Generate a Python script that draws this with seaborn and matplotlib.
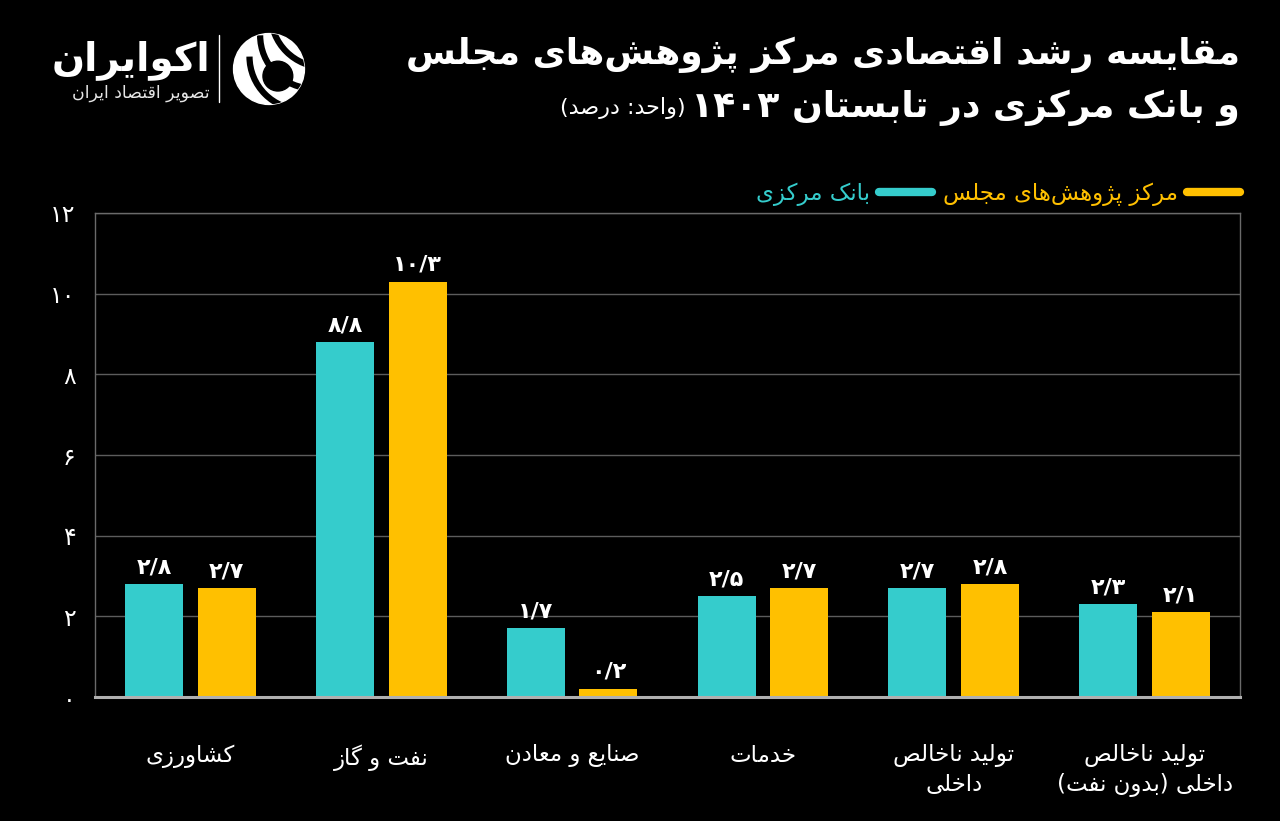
import re
import pandas as pd
import matplotlib.pyplot as plt
import seaborn as sns
from matplotlib.lines import Line2D
from matplotlib.patches import Circle, Arc

# --- data ---
categories = ["کشاورزی", "نفت و گاز", "صنایع و معادن", "خدمات",
              "تولید ناخالص\nداخلی", "تولید ناخالص\nداخلی (بدون نفت)"]
series = ["بانک مرکزی", "مرکز پژوهش\u200cهای مجلس"]
bank = [2.8, 8.8, 1.7, 2.5, 2.7, 2.3]
majlis = [2.7, 10.3, 0.2, 2.7, 2.8, 2.1]
yticks = [0, 2, 4, 6, 8, 10, 12]
colors = ["#35CCCC", "#FFC000"]

title1 = "مقایسه رشد اقتصادی مرکز پژوهش\u200cهای مجلس"
title2 = "و بانک مرکزی در تابستان ۱۴۰۳"
unit = "(واحد: درصد)"
brand = "اکوایران"
brand_sub = "تصویر اقتصاد ایران"

# --- tiny arabic shaper (no reshaper lib available) ---
DUAL = {'ب': 0xFE8F, 'ت': 0xFE95, 'ث': 0xFE99, 'ج': 0xFE9D, 'ح': 0xFEA1, 'خ': 0xFEA5,
        'س': 0xFEB1, 'ش': 0xFEB5, 'ص': 0xFEB9, 'ض': 0xFEBD, 'ط': 0xFEC1, 'ظ': 0xFEC5,
        'ع': 0xFEC9, 'غ': 0xFECD, 'ف': 0xFED1, 'ق': 0xFED5, 'ل': 0xFEDD, 'م': 0xFEE1,
        'ن': 0xFEE5, 'ه': 0xFEE9, 'پ': 0xFB56, 'چ': 0xFB7A, 'ک': 0xFB8E, 'گ': 0xFB92,
        'ی': 0xFBFC}
RIGHT = {'ا': 0xFE8D, 'آ': 0xFE81, 'د': 0xFEA9, 'ذ': 0xFEAB, 'ر': 0xFEAD, 'ز': 0xFEAF,
         'ژ': 0xFB8A, 'و': 0xFEED, '\uFEFB': 0xFEFB}


def shape_line(s):
    s = s.replace('لا', '\uFEFB')
    out = []
    for i, c in enumerate(s):
        if c not in DUAL and c not in RIGHT:
            out.append(c)
            continue
        prev = s[i - 1] if i > 0 else ''
        nxt = s[i + 1] if i + 1 < len(s) else ''
        jp = prev in DUAL
        jn = c in DUAL and (nxt in DUAL or nxt in RIGHT)
        base = DUAL.get(c, RIGHT.get(c))
        if jp and jn:
            k = 3
        elif jn:
            k = 2
        elif jp:
            k = 1
        else:
            k = 0
        out.append(chr(base + k))
    t = ''.join(out).replace('\u200c', '')
    t = t[::-1]
    t = re.sub(r'[۰-۹0-9/]+', lambda m: m.group()[::-1], t)
    return t.translate(str.maketrans('()', ')('))


def fa(s):
    return '\n'.join(shape_line(l) for l in s.split('\n'))


def fa_num(v, fmt='{:.1f}'):
    s = fmt.format(v).replace('.', '/')
    return s.translate(str.maketrans('0123456789', '۰۱۲۳۴۵۶۷۸۹'))


df = pd.DataFrame({
    "cat": categories * 2,
    "series": [series[0]] * len(bank) + [series[1]] * len(majlis),
    "value": bank + majlis,
})

sns.set_theme(style="dark")
plt.rcParams['font.family'] = ['DejaVu Sans']
BG = "#000000"
fig = plt.figure(figsize=(12.8, 8.21), dpi=100, facecolor=BG)
ax = fig.add_axes([95 / 1280, 1 - 697 / 821, 1145 / 1280, 484 / 821])
ax.set_facecolor(BG)

sns.barplot(data=df, x="cat", y="value", hue="series", hue_order=series,
            palette=colors, width=0.76, gap=0.2, saturation=1, legend=False,
            edgecolor='none', linewidth=0, ax=ax)

ax.set_xlim(-0.5, 5.5)
ax.set_ylim(0, 12)
ax.set_yticks(yticks)
ax.set_yticklabels([fa_num(t, '{:d}') for t in yticks], color='white', fontsize=17)
ax.set_xticks(range(len(categories)))
ax.set_xticklabels([fa(c) for c in categories], color='white', fontsize=16.5,
                   va='top', linespacing=1.3)
ax.tick_params(axis='x', length=0, pad=34)
ax.tick_params(axis='y', length=0, pad=14)
ax.set_xlabel("")
ax.set_ylabel("")
ax.grid(axis='y', color='#5c5c5c', lw=1)
ax.grid(axis='x', visible=False)
ax.set_axisbelow(True)
for side in ['left', 'right', 'top']:
    ax.spines[side].set_visible(True)
    ax.spines[side].set_color('#6a6a6a')
    ax.spines[side].set_linewidth(1)
ax.spines['bottom'].set_color('#b0b0b0')
ax.spines['bottom'].set_linewidth(2.2)

for cont, vals in zip(ax.containers, [bank, majlis]):
    ax.bar_label(cont, labels=[fa_num(v) for v in vals], padding=5,
                 color='white', fontsize=16, fontweight='bold')

handles = [Line2D([0], [0], color=c, lw=6, solid_capstyle='round') for c in colors]
leg = ax.legend(handles, [fa(s) for s in series], loc='lower right',
                bbox_to_anchor=(1.0, 1.015), ncol=2, frameon=False, markerfirst=False,
                fontsize=16.5, handlelength=2.3, columnspacing=0.5, handletextpad=0.4,
                borderaxespad=0, borderpad=0)
for t, c in zip(leg.get_texts(), colors):
    t.set_color(c)

# --- title block ---
fig.text(1240 / 1280, 1 - 55 / 821, fa(title1), ha='right', va='center',
         color='white', fontsize=26, fontweight='bold')
t2 = fig.text(1240 / 1280, 1 - 108 / 821, fa(title2), ha='right', va='center',
              color='white', fontsize=26, fontweight='bold')
fig.canvas.draw()
bb = t2.get_window_extent()
fig.text((bb.x0 - 6) / 1280, 1 - 108 / 821, fa(unit), ha='right', va='center',
         color='white', fontsize=16)

# --- logo ---
fig.text(210 / 1280, 1 - 60 / 821, fa(brand), ha='right', va='center',
         color='white', fontsize=28, fontweight='bold')
fig.text(210 / 1280, 1 - 93 / 821, fa(brand_sub), ha='right', va='center',
         color='#e6e6e6', fontsize=12.5)
fig.add_artist(Line2D([219 / 1280, 219 / 1280], [1 - 35 / 821, 1 - 102 / 821],
                      color='white', lw=1))
lax = fig.add_axes([230 / 1280, 1 - 108 / 821, 78 / 1280, 78 / 821])
lax.set_xlim(-1.1, 1.1)
lax.set_ylim(-1.1, 1.1)
lax.set_aspect('equal')
lax.axis('off')
lax.patch.set_alpha(0)
disk = Circle((0, 0), 1.0, color='white')
lax.add_patch(disk)
for cx, cy in [(1.55, 1.55), (1.25, 0.95), (0.95, 0.35)]:
    gap = Arc((cx, cy), 3.0, 3.0, theta1=180, theta2=270, color=BG, lw=4.5)
    lax.add_patch(gap)
    gap.set_clip_path(disk)
lax.add_patch(Circle((0.25, -0.2), 0.42, color=BG))

fig.savefig("out.png", dpi=100, facecolor=BG)
